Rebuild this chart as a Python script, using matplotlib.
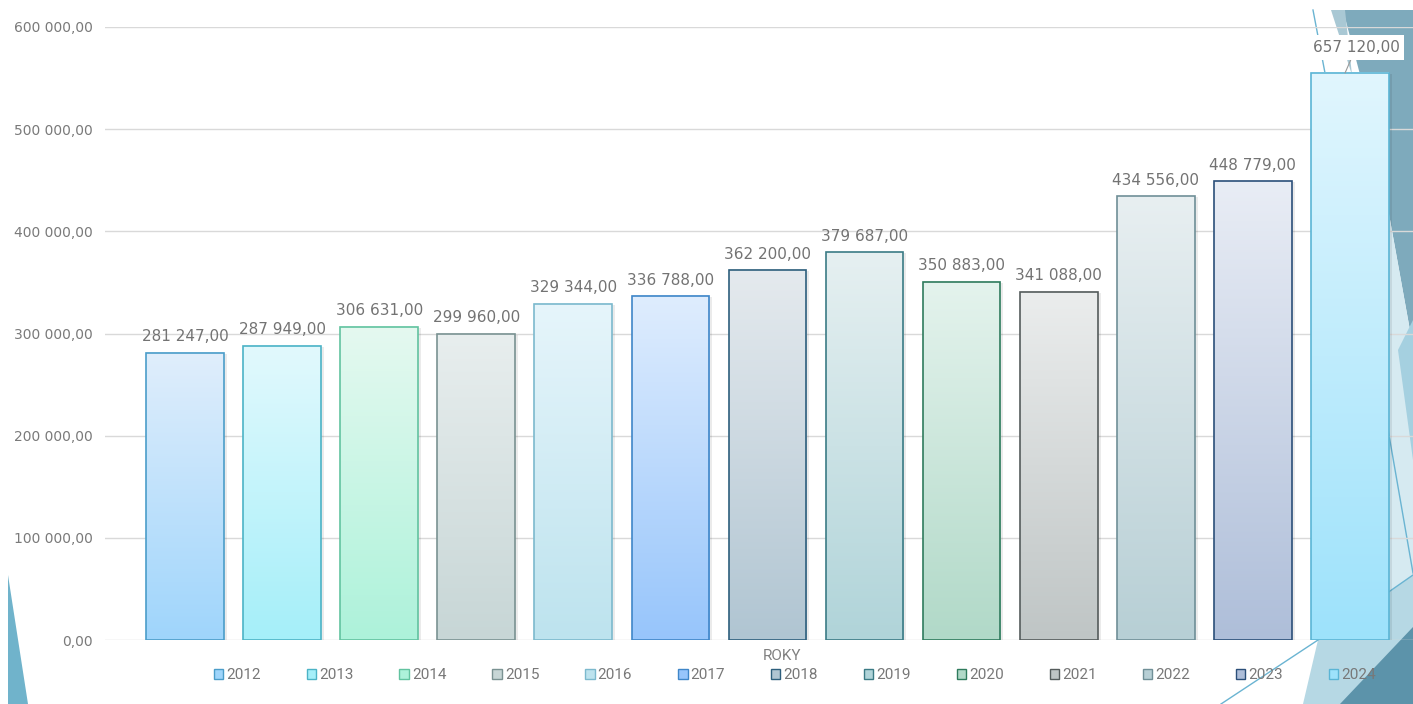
import numpy as np
import matplotlib
matplotlib.use("Agg")
import matplotlib.pyplot as plt
from matplotlib.patches import Polygon, Patch
from matplotlib.lines import Line2D
from matplotlib.transforms import offset_copy
from matplotlib.colors import to_rgb

# ---------------- data ----------------
years = ["2012", "2013", "2014", "2015", "2016", "2017", "2018",
         "2019", "2020", "2021", "2022", "2023", "2024"]
values = [281247, 287949, 306631, 299960, 329344, 336788, 362200,
          379687, 350883, 341088, 434556, 448779, 657120]
# height at which each bar is drawn in the picture (the 2024 bar is drawn shorter than its label)
drawn_heights = values[:-1] + [555000]
y_ticks = [0, 100000, 200000, 300000, 400000, 500000, 600000]
axis_title = "ROKY"

# styles: (top colour, bottom colour, edge colour)
bar_styles = [
    ("#e0eefc", "#9fd5fb", "#4b9dc9"),
    ("#e2f9fd", "#a5eff9", "#4cb3c6"),
    ("#e5f9f0", "#adf2da", "#62c3a0"),
    ("#e8eeee", "#c7d6d6", "#7a9292"),
    ("#e6f5fb", "#bde3ee", "#7cb9cd"),
    ("#dfedfe", "#97c5fb", "#3f86c8"),
    ("#e5eaee", "#b0c5d2", "#2e5f7d"),
    ("#e6f0f1", "#b0d4d9", "#3b7b85"),
    ("#e4f3ed", "#b1d9c8", "#2f7b5d"),
    ("#ebeded", "#bfc5c5", "#555c5c"),
    ("#e8eff1", "#b7cfd5", "#6f8f97"),
    ("#e9edf5", "#aebed9", "#2b4f79"),
    ("#e1f6fe", "#9de2fb", "#5bb5d5"),
]

W, H = 1413, 704
fig = plt.figure(figsize=(W / 100, H / 100), dpi=100)
fig.patch.set_facecolor("white")


def P(x, y):
    return (x / W, 1 - y / H)


def poly(pts, color, z=0):
    fig.add_artist(Polygon([P(*p) for p in pts], closed=True, transform=fig.transFigure,
                           facecolor=color, edgecolor="none", zorder=z))


def line(p0, p1, color="#6ab4d2", lw=1.0, z=0.1):
    a, b = P(*p0), P(*p1)
    fig.add_artist(Line2D([a[0], b[0]], [a[1], b[1]], transform=fig.transFigure,
                          color=color, lw=lw, zorder=z))


# ---------------- background decoration ----------------
poly([(1343, 10), (1413, 10), (1413, 347), (1372, 120)], "#7eaabc")
poly([(1331, 10), (1345, 10), (1352, 75)], "#a9c8d4")
poly([(1372, 120), (1413, 347), (1413, 640), (1372, 640)], "#d6eaf1")
poly([(1398, 350), (1413, 320), (1413, 460)], "#a5d0e0")
poly([(1380, 598), (1413, 575), (1413, 704), (1303, 704), (1318, 640)], "#b6d8e4")
poly([(1340, 704), (1413, 627), (1413, 704)], "#5c93aa", z=0.05)
poly([(8, 575), (28, 704), (8, 704)], "#70b3cb")
line((1313, 10), (1325, 73))
line((1385, 412), (1413, 573))
line((1380, 598), (1413, 575))
line((1318, 640), (1221, 704))

# ---------------- axes ----------------
ax = fig.add_axes([105 / W, 64 / H, 1 - 105 / W, (640 - 27) / H])
ax.set_facecolor("none")
ax.set_zorder(1)

x = np.arange(len(years))
width = 0.8
edges = [s[2] for s in bar_styles]

# soft shadow
shadow_tr = offset_copy(ax.transData, fig=fig, x=3, y=-1, units="dots")
ax.bar(x, drawn_heights, width, color=(0, 0, 0, 0.08), transform=shadow_tr, zorder=1.5)

bars = ax.bar(x, drawn_heights, width, facecolor="none", edgecolor=edges,
              linewidth=1.2, zorder=3)

for b, (top, bot, _) in zip(bars, bar_styles):
    t = np.array(to_rgb(top))
    bt = np.array(to_rgb(bot))
    f = np.linspace(0, 1, 256)[:, None]
    grad = (t * (1 - f) + bt * f)[:, None, :]
    x0, w, h = b.get_x(), b.get_width(), b.get_height()
    ax.imshow(grad, extent=[x0, x0 + w, 0, h], aspect="auto", origin="upper",
              interpolation="bilinear", zorder=2)

ax.set_xlim(-0.824, 12.65)
ax.set_ylim(0, 600000)


def fmt(v):
    return f"{v:,.2f}".replace(",", " ").replace(".", ",")


ax.set_yticks(y_ticks)
ax.set_yticklabels([fmt(v) for v in y_ticks])
ax.tick_params(axis="y", length=0, pad=8.5, labelsize=10, labelcolor="#7a7a7a")
ax.set_xticks([])
for s in ax.spines.values():
    s.set_visible(False)
ax.yaxis.grid(True, color="#d9d9d9", linewidth=1.0, zorder=0.5)
ax.set_axisbelow(True)

# data labels
for i, (b, v) in enumerate(zip(bars, values)):
    cx = b.get_x() + b.get_width() / 2
    if i == len(values) - 1:
        ax.annotate(fmt(v), xy=(cx - 0.05, b.get_height()), xytext=(8, 13),
                    textcoords="offset points", ha="center", va="bottom",
                    fontsize=11, color="#737373", zorder=5,
                    bbox=dict(boxstyle="square,pad=0.3", fc="white", ec="none"),
                    arrowprops=dict(arrowstyle="-", color="#9a9a9a", lw=0.8,
                                    shrinkA=0, shrinkB=0))
    else:
        ax.annotate(fmt(v), xy=(cx, b.get_height()), xytext=(0, 6),
                    textcoords="offset points", ha="center", va="bottom",
                    fontsize=11, color="#737373", zorder=5)

# axis title
fig.text(782 / W, 1 - 656 / H, axis_title, ha="center", va="center",
         fontsize=11, color="#808080", family=["Roboto", "DejaVu Sans"])

# legend
handles = [Patch(facecolor=s[1], edgecolor=s[2], linewidth=1.0) for s in bar_styles]
leg = fig.legend(handles, years, loc="center", bbox_to_anchor=(795 / W, 1 - 675 / H),
                 ncol=len(years), frameon=False, handlelength=0.62, handleheight=0.62,
                 handletextpad=0.2, columnspacing=3.0,
                 prop={"family": ["Roboto", "DejaVu Sans"], "size": 11})
for t in leg.get_texts():
    t.set_color("#787878")

fig.savefig("out.png", dpi=100)
